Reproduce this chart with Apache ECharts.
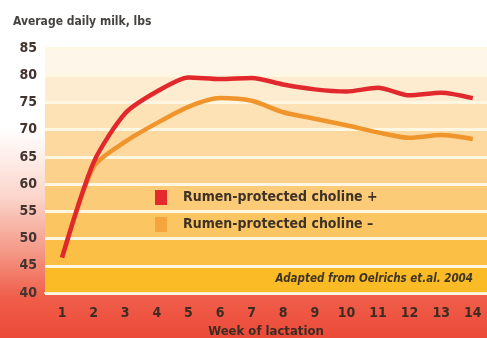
<!DOCTYPE html>
<html>
<head>
<meta charset="utf-8">
<script src="https://cdn.jsdelivr.net/npm/echarts@6/dist/echarts.min.js"></script>
<style>
  html, body { margin: 0; padding: 0; }
  #chart { width: 487px; height: 338px; }
</style>
</head>
<body>
<div id="chart"></div>
<script>
// Weeks of lactation
const weeks = [1, 2, 3, 4, 5, 6, 7, 8, 9, 10, 11, 12, 13, 14];
// Average daily milk (lbs) with rumen-protected choline
const cholinePlus = [46.5, 64.0, 73.0, 77.0, 79.6, 79.3, 79.5, 78.3, 77.4, 77.0, 77.7, 76.3, 76.8, 75.8];
// Average daily milk (lbs) without rumen-protected choline
const cholineMinus = [46.5, 63.2, 67.8, 71.2, 74.2, 75.8, 75.3, 73.2, 72.0, 70.8, 69.5, 68.5, 69.0, 68.3];
// Y axis range and step
const yMin = 40, yMax = 85, yStep = 5;
const seriesNames = ['Rumen-protected choline +', 'Rumen-protected choline \u2013'];

const FONT = "'DejaVu Sans Condensed', 'DejaVu Sans', sans-serif";
const RED = '#e1282c';
const ORANGE = '#f0952c';

// Band fills from the lowest band (40–45) up to the highest (80–85)
const bandColors = ['#fbbb26', '#fbbf45', '#fbc561', '#fccb78', '#fcd18c', '#fdd9a0', '#fde2b6', '#feecd0', '#fff6ea'];

const chart = echarts.init(document.getElementById('chart'), null, { renderer: 'canvas' });

chart.setOption({
  animation: false,
  backgroundColor: new echarts.graphic.LinearGradient(0, 0, 0, 1, [
    { offset: 0, color: '#ffffff' },
    { offset: 0.38, color: '#ffffff' },
    { offset: 0.58, color: '#fbd6cc' },
    { offset: 0.75, color: '#f49684' },
    { offset: 0.88, color: '#ef5e4a' },
    { offset: 1, color: '#ec4a38' }
  ]),
  title: [
    {
      text: 'Average daily milk, lbs',
      left: 8, top: 11,
      textStyle: { fontFamily: FONT, fontSize: 12, fontWeight: 'bold', color: '#464240' }
    },
    {
      text: 'Adapted from Oelrichs et.al. 2004',
      right: 9, top: 268,
      textStyle: { fontFamily: FONT, fontSize: 11.5, fontStyle: 'italic', fontWeight: 'bold', color: '#3e3424' }
    }
  ],
  legend: {
    orient: 'vertical',
    left: 155, top: 190,
    padding: 0,
    itemWidth: 12, itemHeight: 15, itemGap: 12,
    icon: 'rect',
    textStyle: { fontFamily: FONT, fontSize: 14, fontWeight: 'bold', color: '#3e3226', padding: [0, 0, 0, 11] },
    data: [
      { name: seriesNames[0], itemStyle: { color: '#e52a2e' } },
      { name: seriesNames[1], itemStyle: { color: '#f5a53c' } }
    ]
  },
  grid: { left: 45, right: 0, top: 48, bottom: 45, outerBoundsMode: 'none' },
  xAxis: {
    type: 'value',
    min: 0.46, max: 14.45,
    name: 'Week of lactation',
    nameLocation: 'middle',
    nameGap: 32,
    nameTextStyle: { fontFamily: FONT, fontSize: 13, fontWeight: 'bold', color: '#3e2c24' },
    axisLine: { show: true, lineStyle: { color: '#fff3d6', width: 2 } },
    axisTick: { show: false },
    splitLine: { show: false },
    axisLabel: {
      customValues: weeks,
      margin: 13,
      fontFamily: FONT, fontSize: 14, fontWeight: 'bold', color: '#3e2c24'
    }
  },
  yAxis: {
    type: 'value',
    min: yMin, max: yMax, interval: yStep,
    axisLine: { show: false },
    axisTick: { show: false },
    axisLabel: { margin: 8, fontFamily: FONT, fontSize: 14, fontWeight: 'bold', color: '#443430' },
    splitLine: { show: true, lineStyle: { color: '#fff7e2', width: 3 } },
    splitArea: { show: true, areaStyle: { color: bandColors } }
  },
  series: [
    {
      name: seriesNames[1],
      type: 'line',
      data: weeks.map((w, i) => [w, cholineMinus[i]]),
      smooth: 0.25,
      symbol: 'none',
      lineStyle: { color: ORANGE, width: 4.5 },
      itemStyle: { color: ORANGE }
    },
    {
      name: seriesNames[0],
      type: 'line',
      data: weeks.map((w, i) => [w, cholinePlus[i]]),
      smooth: 0.25,
      symbol: 'none',
      lineStyle: { color: RED, width: 4.5 },
      itemStyle: { color: RED }
    }
  ]
});
</script>
</body>
</html>
